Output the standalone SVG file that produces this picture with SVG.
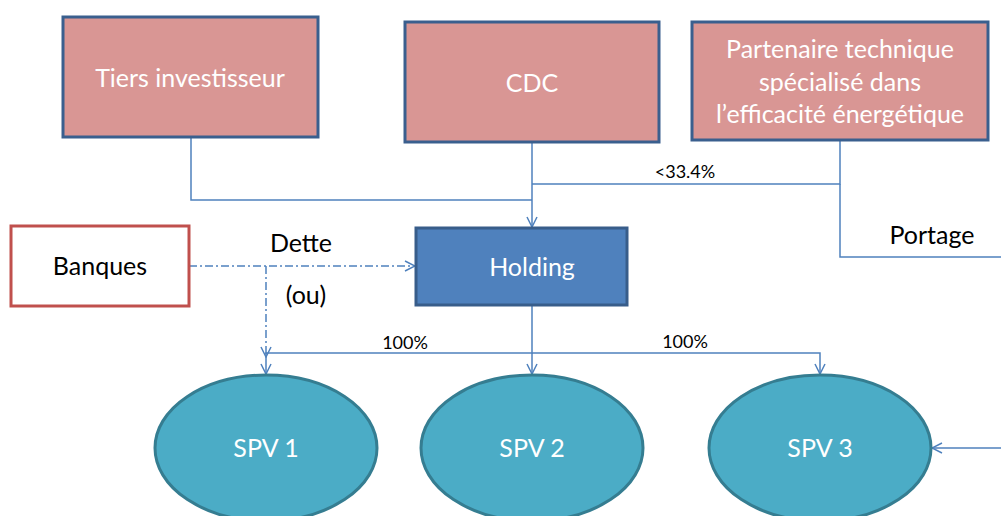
<svg xmlns="http://www.w3.org/2000/svg" width="1001" height="516" viewBox="0 0 1001 516">
<style>
.pink{fill:#D99694;stroke:#3A5F8E;stroke-width:3}
.wt{fill:#FFFFFF;font-family:Lato,"Open Sans",sans-serif;font-size:25px;text-anchor:middle}
.bt{fill:#000000;font-family:Lato,"Open Sans",sans-serif;font-size:25px;text-anchor:middle}
.st{fill:#000000;font-family:Lato,"Open Sans",sans-serif;font-size:18px;text-anchor:middle}
.spv{fill:#4BACC6;stroke:#357D91;stroke-width:3}
.ln{fill:none;stroke:#4F81BD;stroke-width:1.5}
.dd{fill:none;stroke:#4F81BD;stroke-width:1.5;stroke-dasharray:8 3 2 3}
</style>
<defs>
<marker id="ar" viewBox="0 0 12 12" refX="11" refY="6" markerWidth="12" markerHeight="12" markerUnits="userSpaceOnUse" orient="auto">
<path d="M1,1 L11,6 L1,11" fill="none" stroke="#4F81BD" stroke-width="1.5"/>
</marker>
</defs>
<g id="connectors">
<polyline class="ln" points="191,137 191,200 532,200"/>
<line class="ln" x1="532" y1="142" x2="532" y2="227" marker-end="url(#ar)"/>
<polyline class="ln" points="840,140 840,184 532,184"/>
<polyline class="ln" points="840,184 840,257 1001,257"/>
<polyline class="dd" points="189,266 415,266" marker-end="url(#ar)"/>
<polyline class="dd" points="266,266 266,357" marker-end="url(#ar)"/>
<polyline class="ln" points="532,305 532,353 266,353 266,374" marker-end="url(#ar)"/>
<line class="ln" x1="532" y1="353" x2="532" y2="374" marker-end="url(#ar)"/>
<polyline class="ln" points="532,353 820,353 820,374" marker-end="url(#ar)"/>
<line class="ln" x1="1001" y1="448" x2="932" y2="448" marker-end="url(#ar)"/>
<text class="st" x="685" y="178">&lt;33.4%</text>
<text class="bt" x="301" y="252">Dette</text>
<text class="bt" x="306" y="304">(ou)</text>
<text class="bt" x="932" y="244">Portage</text>
<text class="st" x="405" y="349">100%</text>
<text class="st" x="685" y="348">100%</text>
</g>
<g id="tiers">
<rect class="pink" x="63" y="17" width="255" height="120"/>
<text class="wt" x="190" y="87">Tiers investisseur</text>
</g>
<g id="cdc">
<rect class="pink" x="405" y="22" width="254" height="120"/>
<text class="wt" x="532" y="92">CDC</text>
</g>
<g id="partenaire">
<rect class="pink" x="692" y="22" width="296" height="118"/>
<text class="wt" x="840" y="58">Partenaire technique</text>
<text class="wt" x="840" y="91">spécialisé dans</text>
<text class="wt" x="840" y="123">l’efficacité énergétique</text>
</g>
<g id="banques">
<rect x="11" y="226" width="178" height="80" fill="#FFFFFF" stroke="#C0504D" stroke-width="3"/>
<text class="bt" x="100" y="275">Banques</text>
</g>
<g id="holding">
<rect x="416" y="228" width="211" height="77" fill="#4F81BD" stroke="#385D8A" stroke-width="3"/>
<text class="wt" x="532" y="276">Holding</text>
</g>
<g id="spv1">
<ellipse class="spv" cx="266" cy="448" rx="111" ry="73"/>
<text class="wt" x="266" y="457">SPV 1</text>
</g>
<g id="spv2">
<ellipse class="spv" cx="532" cy="448" rx="111" ry="73"/>
<text class="wt" x="532" y="457">SPV 2</text>
</g>
<g id="spv3">
<ellipse class="spv" cx="820" cy="448" rx="111" ry="73"/>
<text class="wt" x="820" y="457">SPV 3</text>
</g>
</svg>
